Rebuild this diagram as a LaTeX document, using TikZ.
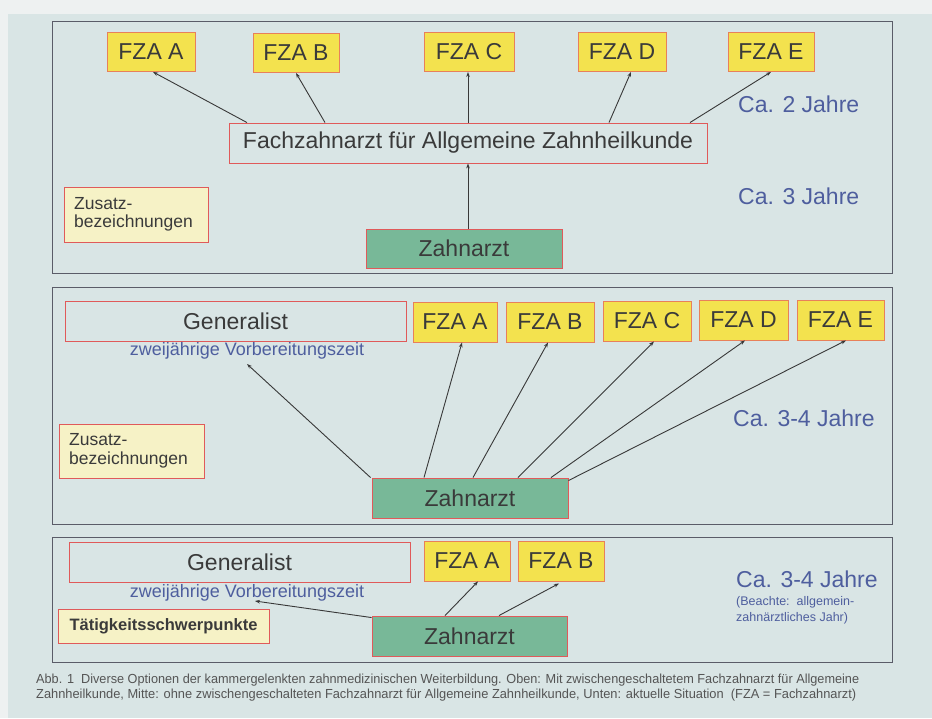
\documentclass[tikz,border=0pt]{standalone}
\usepackage{fontspec}
\setmainfont{Liberation Sans}
\usetikzlibrary{arrows.meta,calc}
\definecolor{outerbg}{HTML}{EEF1F1}
\definecolor{innerbg}{HTML}{D9E5E5}
\definecolor{framecol}{HTML}{5A5C68}
\definecolor{fzafill}{HTML}{F3E24E}
\definecolor{fzaline}{HTML}{E8805A}
\definecolor{redline}{HTML}{E05A5A}
\definecolor{zfill}{HTML}{F6F2C6}
\definecolor{greenfill}{HTML}{78B898}
\definecolor{txt}{HTML}{3A3A3A}
\definecolor{bluetxt}{HTML}{4E5E9E}
\definecolor{capt}{HTML}{555555}
\definecolor{arrowcol}{HTML}{383838}
\begin{document}
\begin{tikzpicture}[x=1pt,y=-1pt,
  big/.style={font=\fontsize{23}{26}\selectfont, text=txt},
  fzabox/.style={big, draw=fzaline, line width=0.9pt, fill=fzafill, minimum height=39pt, inner sep=0pt},
  openbox/.style={big, draw=redline, line width=0.9pt, minimum height=40pt, inner sep=0pt},
  zbox/.style={big, draw=redline, line width=0.9pt, fill=greenfill, minimum height=40pt, inner sep=0pt},
  zusatzbox/.style={draw=redline, line width=0.9pt, fill=zfill, inner sep=0pt, text=txt},
  panel/.style={draw=framecol, line width=1pt},
  bluelbl/.style={font=\fontsize{23}{26}\selectfont, text=bluetxt, anchor=west, inner sep=0pt},
  bluesub/.style={font=\fontsize{18}{20}\selectfont, text=bluetxt, inner sep=0pt},
  arr/.style={draw=arrowcol, line width=0.9pt, -{Stealth[length=5pt,width=3.6pt]}},
  captline/.style={anchor=west, inner sep=0pt, text=capt}
]
\useasboundingbox (0,0) rectangle (932,718);
\fill[outerbg] (0,0) rectangle (932,718);
\fill[innerbg] (8,14) rectangle (932,718);

% ---------- panel frames ----------
\draw[panel] (52,21) rectangle (892,273);
\draw[panel] (52,287) rectangle (892,524);
\draw[panel] (52,537) rectangle (892,662);

% ---------- panel 1 ----------
\node[fzabox, minimum width=88pt] (fa1) at (151,52) {FZA A};
\node[fzabox, minimum width=86pt] (fb1) at (296,53) {FZA B};
\node[fzabox, minimum width=90pt] (fc1) at (469,52) {FZA C};
\node[fzabox, minimum width=88pt] (fd1) at (622,52) {FZA D};
\node[fzabox, minimum width=86pt] (fe1) at (771,52) {FZA E};
\node[openbox, minimum width=478pt] (fach) at (468,143) {Fachzahnarzt für Allgemeine Zahnheilkunde};
\node[zusatzbox, minimum width=144pt, minimum height=55pt] (zus1) at (136,214.5) {};
\node[anchor=west, inner sep=0pt, text=txt, align=left, font=\fontsize{17.5}{18.5}\selectfont] (zus1t) at (74,214.5) {Zusatz-\\bezeichnungen};
\node[zbox, minimum width=196pt, minimum height=39pt] (za1) at (464,248.5) {Zahnarzt};
\node[bluelbl] (ca2) at (738,104) {Ca. 2 Jahre};
\node[bluelbl] (ca3) at (738,196) {Ca. 3 Jahre};

\draw[arr] ([xshift=-221pt]fach.north) -- ([xshift=2pt]fa1.south);
\draw[arr] ([xshift=-143pt]fach.north) -- (fb1.south);
\draw[arr] (fach.north) -- ([xshift=-1pt]fc1.south);
\draw[arr] ([xshift=141pt]fach.north) -- ([xshift=9pt]fd1.south);
\draw[arr] ([xshift=222pt]fach.north) -- (fe1.south);
\draw[arr] ([xshift=4pt]za1.north) -- (fach.south);

% ---------- panel 2 ----------
\node[openbox, minimum width=341pt] (gen2) at (235.5,321) {Generalist};
\node[bluesub] (vor2) at (247,351) {zweijährige Vorbereitungszeit};
\coordinate (vor2end) at (247,364);
\node[fzabox, minimum width=84pt, minimum height=40pt] (fa2) at (455,322) {FZA A};
\node[fzabox, minimum width=88pt, minimum height=40pt] (fb2) at (550,322) {FZA B};
\node[fzabox, minimum width=88pt, minimum height=40pt] (fc2) at (647,321) {FZA C};
\node[fzabox, minimum width=89pt, minimum height=40pt] (fd2) at (743.5,320) {FZA D};
\node[fzabox, minimum width=87pt, minimum height=40pt] (fe2) at (840.5,320) {FZA E};
\node[zbox, minimum width=196pt] (za2) at (470,498) {Zahnarzt};
\node[zusatzbox, minimum width=145pt, minimum height=54pt] (zus2) at (131.5,451) {};
\node[anchor=west, inner sep=0pt, text=txt, align=left, font=\fontsize{17.5}{18.5}\selectfont] (zus2t) at (69,451) {Zusatz-\\bezeichnungen};
\node[bluelbl] (ca34b) at (733,418) {Ca. 3-4 Jahre};

\draw[arr] ([xshift=-1pt]za2.north west) -- (vor2end);
\draw[arr] ([xshift=-46pt]za2.north) -- ([xshift=7pt]fa2.south);
\draw[arr] ([xshift=3pt]za2.north) -- ([xshift=-2pt]fb2.south);
\draw[arr] ([xshift=48pt]za2.north) -- ([xshift=7pt]fc2.south);
\draw[arr] ([xshift=81pt]za2.north) -- ([xshift=1.5pt]fd2.south);
\draw[arr] ([yshift=-3pt]za2.north east) -- ([xshift=5.5pt]fe2.south);

% ---------- panel 3 ----------
\node[openbox, minimum width=341pt] (gen3) at (239.5,562) {Generalist};
\node[bluesub] (vor3) at (247,593) {zweijährige Vorbereitungszeit};
\coordinate (vor3end) at (255,601);
\node[zusatzbox, minimum width=211pt, minimum height=34pt, font=\bfseries\fontsize{16.5}{18}\selectfont] (taet) at (163.5,626) {Tätigkeitsschwerpunkte};
\node[zbox, minimum width=195pt] (za3) at (469.5,636) {Zahnarzt};
\node[fzabox, minimum width=86pt, minimum height=40pt] (fa3) at (467,561) {FZA A};
\node[fzabox, minimum width=86pt, minimum height=40pt] (fb3) at (561,561) {FZA B};
\node[bluelbl] (ca34c) at (736,579) {Ca. 3-4 Jahre};
\node[anchor=north west, inner sep=0pt, text=bluetxt, align=left, font=\fontsize{12.5}{16}\selectfont] (beachte) at (736,596) {(Beachte:\ \ allgemein-\\zahnärztliches Jahr)};

\draw[arr] ([yshift=-2pt]za3.north west) -- (vor3end);
\draw[arr] ([xshift=-24.5pt]za3.north) -- ([xshift=11pt]fa3.south);
\draw[arr] ([xshift=29.5pt]za3.north) -- ([xshift=-2pt,yshift=-2pt]fb3.south);

% ---------- caption ----------
\node[captline] (cap1) at (36,680) {\resizebox{823pt}{9.5pt}{Abb. 1\ \ Diverse Optionen der kammergelenkten zahnmedizinischen Weiterbildung. Oben: Mit zwischengeschaltetem Fachzahnarzt für Allgemeine}};
\node[captline] (cap2) at (36,695) {\resizebox{820pt}{9.5pt}{Zahnheilkunde, Mitte: ohne zwischengeschalteten Fachzahnarzt für Allgemeine Zahnheilkunde, Unten: aktuelle Situation\ \ (FZA = Fachzahnarzt)}};
\end{tikzpicture}
\end{document}
